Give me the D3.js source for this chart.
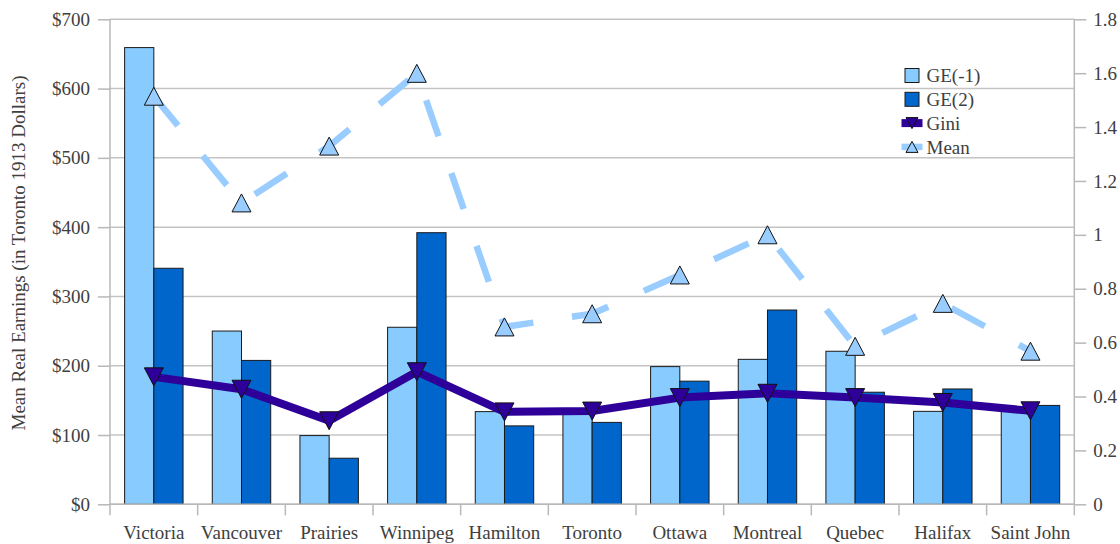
<!DOCTYPE html>
<html>
<head>
<meta charset="utf-8">
<script src="https://cdn.jsdelivr.net/npm/d3@7/dist/d3.min.js"></script>
<style>
  html, body { margin: 0; padding: 0; background: #fff; }
  svg { display: block; }
  text { font-family: "Liberation Serif", "Times New Roman", serif; fill: #404040; }
</style>
</head>
<body>
<svg id="chart" width="1120" height="544"></svg>
<script>
// Cities along the x axis
const cities = ["Victoria", "Vancouver", "Prairies", "Winnipeg", "Hamilton", "Toronto",
                "Ottawa", "Montreal", "Quebec", "Halifax", "Saint John"];

// Inequality indices (right axis)
const ge1  = [1.695, 0.643, 0.255, 0.657, 0.344, 0.335, 0.511, 0.538, 0.568, 0.345, 0.345];
const ge2  = [0.876, 0.534, 0.171, 1.008, 0.291, 0.304, 0.457, 0.721, 0.416, 0.428, 0.367];
const gini = [0.473, 0.427, 0.310, 0.492, 0.343, 0.346, 0.396, 0.412, 0.396, 0.378, 0.347];

// Mean real earnings, Toronto 1913 dollars (left axis)
const meanEarnings = [589, 435, 517, 622, 256, 275, 331, 389, 228, 290, 221];

// Axis ticks
const leftTicks  = [0, 100, 200, 300, 400, 500, 600, 700];
const rightTicks = [0, 0.2, 0.4, 0.6, 0.8, 1, 1.2, 1.4, 1.6, 1.8];

const W = 1120, H = 544;
const m = { left: 110, right: 45.7, top: 19.3, bottom: 39.7 };
const x0 = m.left, x1 = W - m.right, yTop = m.top, yBot = H - m.bottom;
const tickFont = "19px", legendFont = "19px", titleFont = "19px";

const svg = d3.select("#chart");

const x = d3.scaleBand().domain(cities).range([x0, x1]).padding(0);
const xs = d3.scaleBand().domain(["GE(-1)", "GE(2)"]).range([0, x.bandwidth()])
  .paddingInner(0).paddingOuter(0.5);
const yL = d3.scaleLinear().domain([0, 700]).range([yBot, yTop]);
const yR = d3.scaleLinear().domain([0, 1.8]).range([yBot, yTop]);

const gridColor = "#c4c4c4";
const colGE1 = "#88CCFF", colGE2 = "#0066CC", colGini = "#2E0099", colMean = "#99CCFF";

// Horizontal gridlines at the dollar ticks
svg.append("g").selectAll("line").data(leftTicks).join("line")
  .attr("x1", x0).attr("x2", x1)
  .attr("y1", d => yL(d)).attr("y2", d => yL(d))
  .attr("stroke", gridColor).attr("stroke-width", 1.5);

// Bars
const barG = svg.append("g");
const series = [
  { key: "GE(-1)", vals: ge1, color: colGE1 },
  { key: "GE(2)",  vals: ge2, color: colGE2 }
];
series.forEach(s => {
  barG.append("g").selectAll("rect").data(cities).join("rect")
    .attr("x", (c) => x(c) + xs(s.key))
    .attr("width", xs.bandwidth())
    .attr("y", (c, i) => yR(s.vals[i]))
    .attr("height", (c, i) => yBot - yR(s.vals[i]))
    .attr("fill", s.color)
    .attr("stroke", "#1a1a1a").attr("stroke-width", 1);
});

// Axis lines
const axG = svg.append("g").attr("stroke", "#b8b8b8").attr("stroke-width", 1.5);
axG.append("line").attr("x1", x0).attr("x2", x0).attr("y1", yTop).attr("y2", yBot + 11);
axG.append("line").attr("x1", x1).attr("x2", x1).attr("y1", yTop).attr("y2", yBot + 11);
axG.append("line").attr("x1", x0).attr("x2", x1).attr("y1", yBot).attr("y2", yBot);

// Left axis
const leftAxis = svg.append("g").attr("transform", `translate(${x0},0)`)
  .call(d3.axisLeft(yL).tickValues(leftTicks).tickFormat(d => "$" + d).tickSize(12).tickPadding(8));
// Right axis
const rightAxis = svg.append("g").attr("transform", `translate(${x1},0)`)
  .call(d3.axisRight(yR).tickValues(rightTicks).tickFormat(d => d3.format("")(+d.toFixed(1))).tickSize(12).tickPadding(7));
// Bottom axis: category boundaries as tick marks, labels centred in each band
const bottomAxis = svg.append("g").attr("transform", `translate(0,${yBot})`)
  .call(d3.axisBottom(x).tickSize(0).tickPadding(22));
bottomAxis.selectAll("g.boundary").data(cities.slice(1)).join("line")
  .attr("x1", c => x(c)).attr("x2", c => x(c)).attr("y1", 0).attr("y2", 11)
  .attr("stroke", "#b8b8b8").attr("stroke-width", 1.5);

[leftAxis, rightAxis, bottomAxis].forEach(g => {
  g.select(".domain").remove();
  g.selectAll(".tick line").attr("stroke", "#b8b8b8").attr("stroke-width", 1.5);
  g.selectAll(".tick text").attr("font-size", tickFont)
    .attr("font-family", "'Liberation Serif', 'Times New Roman', serif").attr("fill", "#404040");
});
bottomAxis.selectAll(".tick text").attr("dy", "0.71em").attr("y", 21);

// Axis title
svg.append("text")
  .attr("transform", `translate(24.5,253) rotate(-90)`)
  .attr("text-anchor", "middle")
  .attr("font-size", titleFont)
  .text("Mean Real Earnings (in Toronto 1913 Dollars)");

const cx = c => x(c) + x.bandwidth() / 2;

// Mean earnings: dashed line with upward triangles
const meanLine = d3.line().x((d, i) => cx(cities[i])).y(d => yL(d));
svg.append("path").datum(meanEarnings)
  .attr("d", meanLine).attr("fill", "none")
  .attr("stroke", colMean).attr("stroke-width", 6.5)
  .attr("stroke-dasharray", "38,39");

// Gini: thick solid line with downward triangles
const giniLine = d3.line().x((d, i) => cx(cities[i])).y(d => yR(d));
svg.append("path").datum(gini)
  .attr("d", giniLine).attr("fill", "none")
  .attr("stroke", colGini).attr("stroke-width", 8).attr("stroke-linejoin", "round");

// Triangle markers drawn as explicit shapes around each data point
function triPath(px, py, w, h, down) {
  const t = down ? [[px - w / 2, py - h / 2], [px + w / 2, py - h / 2], [px, py + h / 2]]
                 : [[px - w / 2, py + h / 2], [px + w / 2, py + h / 2], [px, py - h / 2]];
  return "M" + t.map(p => p.join(",")).join("L") + "Z";
}
svg.append("g").selectAll("path").data(meanEarnings).join("path")
  .attr("d", (d, i) => triPath(cx(cities[i]), yL(d), 19, 18, false))
  .attr("fill", colMean).attr("stroke", "#111").attr("stroke-width", 1);
svg.append("g").selectAll("path").data(gini).join("path")
  .attr("d", (d, i) => triPath(cx(cities[i]), yR(d), 19, 18, true))
  .attr("fill", colGini).attr("stroke", "#111").attr("stroke-width", 1);

// Legend
const legendItems = [
  { name: "GE(-1)", type: "bar", color: colGE1 },
  { name: "GE(2)",  type: "bar", color: colGE2 },
  { name: "Gini",   type: "gini", color: colGini },
  { name: "Mean",   type: "mean", color: colMean }
];
const lg = svg.append("g").attr("transform", "translate(912,75.5)");
legendItems.forEach((it, i) => {
  const g = lg.append("g").attr("transform", `translate(0,${i * 23.8})`);
  if (it.type === "bar") {
    g.append("rect").attr("x", -7).attr("y", -7).attr("width", 14).attr("height", 14)
      .attr("fill", it.color).attr("stroke", "#1a1a1a").attr("stroke-width", 1);
  } else if (it.type === "gini") {
    g.append("line").attr("x1", -10.5).attr("x2", 10.5).attr("y1", 0).attr("y2", 0)
      .attr("stroke", it.color).attr("stroke-width", 8);
    g.append("path").attr("d", triPath(0, 0, 12, 11, true))
      .attr("fill", it.color).attr("stroke", "#111").attr("stroke-width", 1);
  } else {
    g.append("line").attr("x1", -10.5).attr("x2", 10.5).attr("y1", 0).attr("y2", 0)
      .attr("stroke", it.color).attr("stroke-width", 6.5);
    g.append("path").attr("d", triPath(0, 0, 12, 11, false))
      .attr("fill", it.color).attr("stroke", "#111").attr("stroke-width", 1);
  }
  g.append("text").attr("x", 14.5).attr("y", 0).attr("dy", "0.35em")
    .attr("font-size", legendFont).text(it.name);
});
</script>
</body>
</html>
